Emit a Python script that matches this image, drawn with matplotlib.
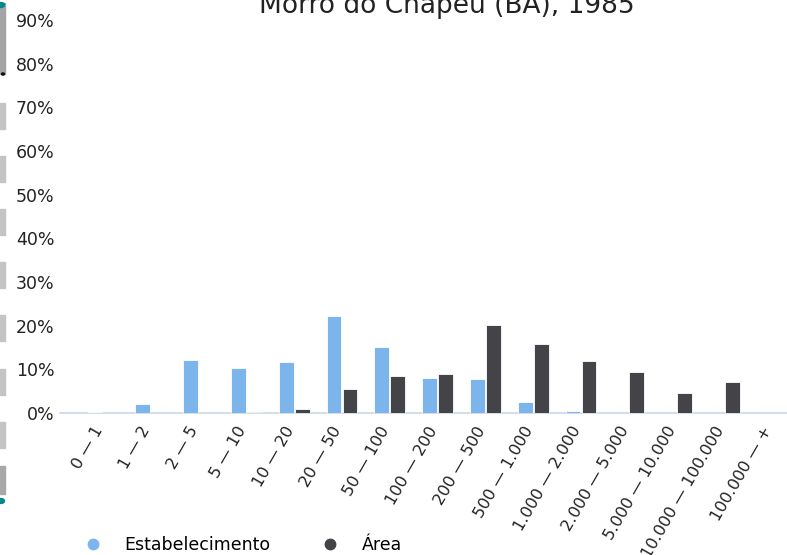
import matplotlib
matplotlib.use("Agg")
import matplotlib.pyplot as plt
import numpy as np
from matplotlib.patches import Rectangle, Circle
from matplotlib.lines import Line2D

categories = ["0 — 1", "1 — 2", "2 — 5", "5 — 10", "10 — 20", "20 — 50", "50 — 100",
              "100 — 200", "200 — 500", "500 — 1.000", "1.000 — 2.000", "2.000 — 5.000",
              "5.000 — 10.000", "10.000 — 100.000", "100.000 — +"]
estabelecimento = [0.2, 2.1, 12.2, 10.4, 11.7, 22.2, 15.1, 8.0, 7.7, 2.45, 0.5, 0.1, 0.0, 0.0, 0.0]
area = [0.0, 0.0, 0.0, 0.2, 0.9, 5.5, 8.5, 8.9, 20.2, 15.8, 11.9, 9.3, 4.6, 7.1, 0.0]
yticks = [0, 10, 20, 30, 40, 50, 60, 70, 80, 90]
title = "Morro do Chapéu (BA), 1985"

c_est = "#7cb5ec"
c_area = "#434348"

fig = plt.figure(figsize=(7.87, 5.55), dpi=100)
ax = fig.add_axes([60/787, 142/555, 727/787, 393/555])

x = np.arange(len(categories))
off = 0.167
w = 0.31
ax.bar(x - off, estabelecimento, width=w, color=c_est, edgecolor="white", linewidth=0.6, zorder=3)
ax.bar(x + off, area, width=w, color=c_area, edgecolor="white", linewidth=0.6, zorder=3)

ax.set_xlim(-0.90, 14.31)
ax.set_ylim(0, 90)
ax.set_yticks(yticks)
ax.set_yticklabels([f"{v}%" for v in yticks], fontsize=12.5, color="#222222")
ax.set_xticks(x)
ax.set_xticklabels(categories, rotation=60, ha="right", va="baseline", rotation_mode="anchor",
                   fontsize=11.6, color="#222222")
ax.tick_params(axis="both", length=0)
ax.tick_params(axis="y", pad=4)
ax.tick_params(axis="x", pad=12)
for s in ["top", "right", "left"]:
    ax.spines[s].set_visible(False)
ax.spines["bottom"].set_color("#ccd6eb")
ax.spines["bottom"].set_linewidth(1.2)

fig.text(446.5/787, 1 - 13/555, title, ha="center", va="baseline", fontsize=19, color="#222222")

handles = [Line2D([], [], marker="o", linestyle="none", color=c_est, markersize=7.5),
           Line2D([], [], marker="o", linestyle="none", color=c_area, markersize=7.5)]
fig.legend(handles, ["Estabelecimento", "Área"], loc="center left",
           bbox_to_anchor=(84/787, 1 - 545/555), ncol=2, frameon=False, fontsize=12.5,
           handlelength=1.0, handletextpad=1.34, columnspacing=2.9, borderpad=0,
           borderaxespad=0)

# left-side navigator decoration
def frect(y0, y1, color):
    fig.patches.append(Rectangle((0, 1 - y1/555), 5/787, (y1 - y0)/555,
                                 transform=fig.transFigure, color=color, zorder=5))
frect(3, 74, "#a4a4a4")
for y0 in [103, 156, 209, 262, 315, 369, 422]:
    frect(y0, y0 + 26, "#c4c4c4")
frect(466, 494, "#a8a8a8")
for yc in [5, 501]:
    fig.patches.append(Circle((1/787, 1 - yc/555), 3.5/787, transform=fig.transFigure,
                              color="#00878a", zorder=6))
fig.patches.append(Circle((3/787, 1 - 74/555), 1.5/787, transform=fig.transFigure,
                          color="#111111", zorder=6))

fig.savefig("out.png", dpi=100)
